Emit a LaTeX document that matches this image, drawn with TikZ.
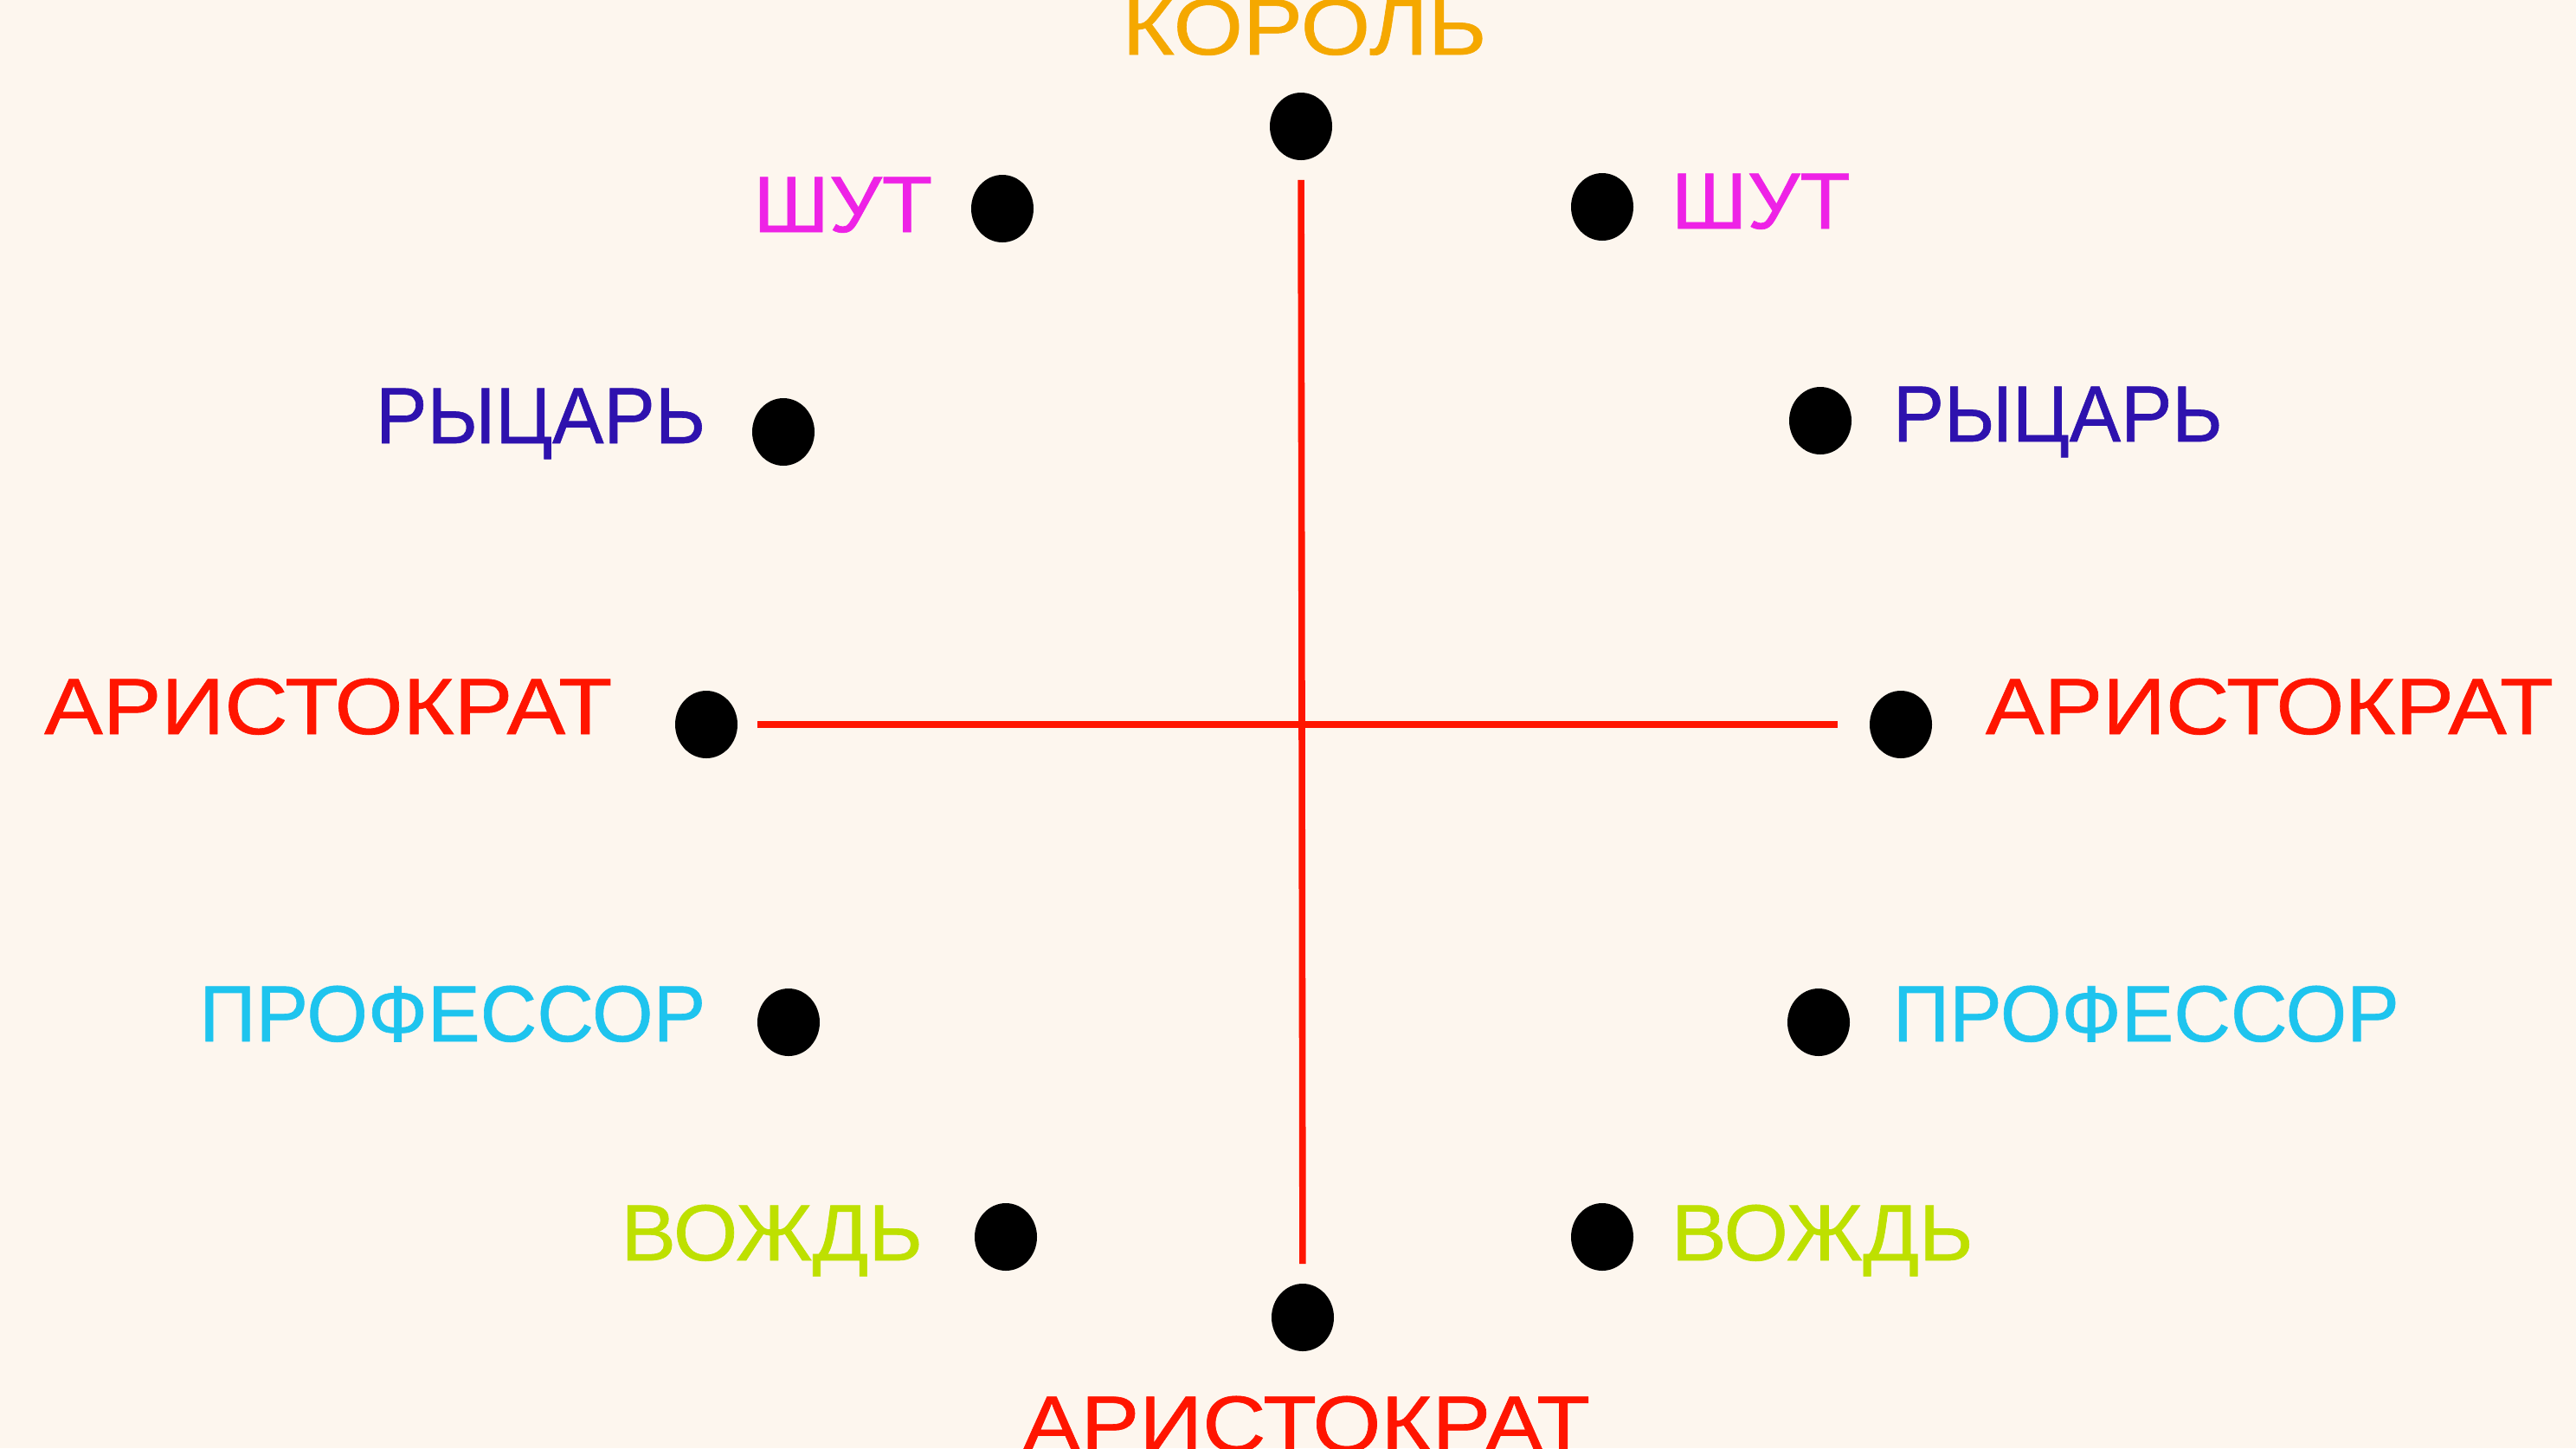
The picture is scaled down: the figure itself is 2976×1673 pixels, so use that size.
\documentclass[tikz,border=0pt]{standalone}
\usepackage{fontspec}
\setmainfont{Liberation Sans}
\newfontfamily\heavyfont{Liberation Sans}[FakeBold=0.7]
\usetikzlibrary{shapes.geometric}
\definecolor{bgc}{HTML}{FDF6EE}
\definecolor{kingc}{HTML}{F5A800}
\definecolor{jesterc}{HTML}{EE22E6}
\definecolor{knightc}{HTML}{2E12AE}
\definecolor{aristc}{HTML}{FF1500}
\definecolor{profc}{HTML}{1EC4EE}
\definecolor{chiefc}{HTML}{BEE000}
\tikzset{
  dot/.style={ellipse,fill=black,inner sep=0pt,minimum width=18pt,minimum height=19.5pt},
  lbl/.style={inner sep=0pt,font=\heavyfont\fontsize{23}{27}\selectfont,xscale=1.04},
  lleft/.style={lbl,anchor=base east},
  lright/.style={lbl,anchor=base west},
  wide/.style={xscale=1.06},
  narrow/.style={xscale=0.93},
  axis/.style={draw=aristc,line width=1.9pt,shorten >=5.5pt,shorten <=5.5pt}
}
\begin{document}
\begin{tikzpicture}[x=0.25pt,y=-0.25pt]
\path[use as bounding box,fill=bgc] (0,0) rectangle (2976,1673);
% dots
\node[dot] (dtop) at (1503,146) {};
\node[dot] (dbot) at (1505,1522) {};
\node[dot] (j1) at (1158,241) {};
\node[dot] (j2) at (1851,239) {};
\node[dot] (k1) at (905,499) {};
\node[dot] (k2) at (2103,486) {};
\node[dot] (a1) at (816,837) {};
\node[dot] (a2) at (2196,837) {};
\node[dot] (p1) at (911,1181) {};
\node[dot] (p2) at (2101,1181) {};
\node[dot] (c1) at (1162,1429) {};
\node[dot] (c2) at (1851,1429) {};
% axes
\path[axis] (dtop) -- (dbot);
\path[axis,shorten >=9pt] (a1) -- (a2);
% labels
\node[lbl,anchor=base,text=kingc,xscale=1.08] (tking) at (1507,63) {КОРОЛЬ};
\node[lleft,text=jesterc] (tj1) at (1078,268) {ШУТ};
\node[lright,text=jesterc] (tj2) at (1930,264) {ШУТ};
\node[lleft,text=knightc,narrow] (tk1) at (816,512) {РЫЦАРЬ};
\node[lright,text=knightc,narrow] (tk2) at (2186,510) {РЫЦАРЬ};
\node[lleft,text=aristc,wide] (ta1) at (708,848) {АРИСТОКРАТ};
\node[lright,text=aristc,wide] (ta2) at (2293,848) {АРИСТОКРАТ};
\node[lleft,text=profc,xscale=0.95] (tp1) at (816,1203) {ПРОФЕССОР};
\node[lright,text=profc,xscale=0.95] (tp2) at (2186,1203) {ПРОФЕССОР};
\node[lleft,text=chiefc] (tc1) at (1067,1456) {ВОЖДЬ};
\node[lright,text=chiefc] (tc2) at (1930,1456) {ВОЖДЬ};
\node[lbl,anchor=base,text=aristc,wide] (ta3) at (1509,1677) {АРИСТОКРАТ};
\end{tikzpicture}
\end{document}
